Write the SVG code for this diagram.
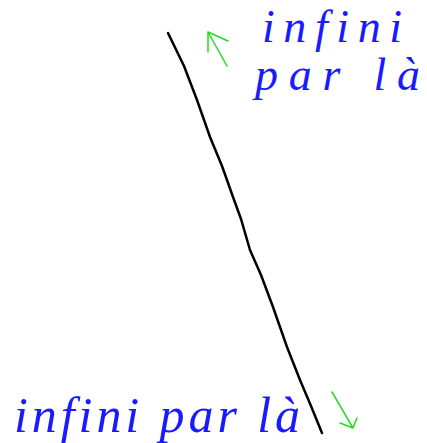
<svg xmlns="http://www.w3.org/2000/svg" width="427" height="443" viewBox="0 0 427 443">
<style>
.hand{font-family:"Liberation Serif","DejaVu Serif",serif;font-style:italic;fill:#1a1aff;}
.ink{fill:none;stroke-linecap:round;stroke-linejoin:round;}
</style>
<rect width="427" height="443" fill="#ffffff"/>
<g id="connectors">
<path id="line" class="ink" stroke="#000" stroke-width="2.5" d="M168,33 L184,66 L197,100 L210,137 L222,166 L233,197 L241,219 L250,250 L261,275 L273,307 L287,347 L300,380 L311,406 L322,433"/>
<path id="arrow-up" class="ink" stroke="#22dd22" stroke-width="1.5" d="M227,66 L208,32 M208,52 L208,32 L228,41"/>
<path id="arrow-down" class="ink" stroke="#22dd22" stroke-width="1.5" d="M332,392 L353,428 M340,423 L353,428 L357,418"/>
</g>
<g id="label-top">
<text class="hand" x="262" y="42" font-size="46" textLength="140" lengthAdjust="spacing">infini</text>
<text class="hand" x="255" y="90" font-size="46" textLength="165" lengthAdjust="spacing">par là</text>
</g>
<g id="label-bottom">
<text class="hand" x="14" y="432" font-size="50" textLength="286" lengthAdjust="spacing">infini par là</text>
</g>
</svg>
